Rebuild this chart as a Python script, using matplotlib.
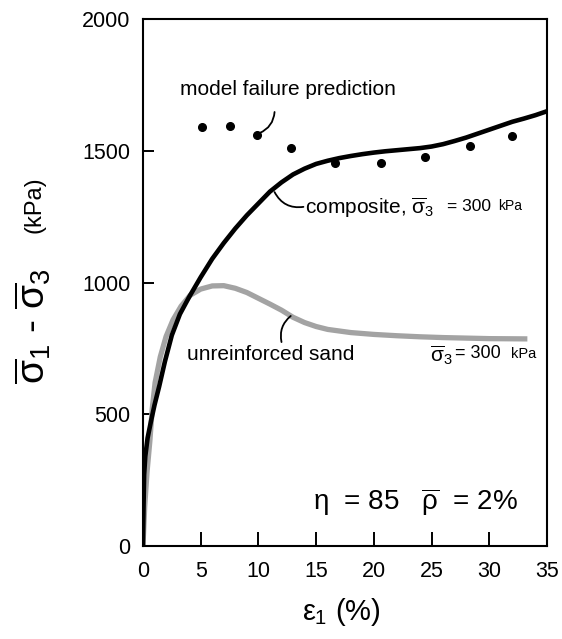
import matplotlib
matplotlib.use("Agg")
import matplotlib.pyplot as plt

plt.rcParams['font.family'] = ['Liberation Sans', 'DejaVu Sans']
plt.rcParams['mathtext.fontset'] = 'custom'
plt.rcParams['mathtext.rm'] = 'Liberation Sans'
plt.rcParams['mathtext.it'] = 'Liberation Sans'
plt.rcParams['mathtext.bf'] = 'Liberation Sans:bold'

# composite, sigma3 = 300 kPa
comp_strain = [0, 0.05, 0.1, 0.2, 0.4, 0.7, 1.0, 1.4, 1.9, 2.5, 3.2, 4.0, 5.0, 6.0,
               7.0, 8.0, 9.0, 10.0, 11.0, 12.0, 13.0, 14.0, 15.0, 16.0, 17.0, 18.0,
               19.0, 20, 21, 22, 23, 24, 25, 26, 27, 28, 29, 30, 31, 32, 33, 34, 35]
comp_stress = [0, 150, 270, 340, 410, 475, 535, 605, 700, 800, 880, 945, 1020, 1090,
               1150, 1205, 1255, 1300, 1345, 1380, 1410, 1432, 1450, 1462, 1472, 1480,
               1487, 1493, 1498, 1502, 1506, 1510, 1516, 1525, 1537, 1550, 1565, 1580,
               1595, 1610, 1622, 1635, 1650]

# unreinforced sand
sand_strain = [0, 0.15, 0.35, 0.6, 0.8, 1.05, 1.5, 2.0, 2.6, 3.3, 4.1, 5.0, 6.0, 7.0,
               8.0, 9.0, 10.0, 11.0, 12.0, 13.0, 14.0, 15.0, 16.0, 18, 20, 22, 24, 26,
               28, 30, 33.3]
sand_stress = [0, 150, 280, 400, 520, 620, 718, 795, 858, 910, 952, 975, 987, 988,
               978, 962, 940, 918, 895, 868, 848, 833, 822, 810, 803, 798, 794, 791,
               789, 787, 786]

# model failure prediction
pred_strain = [5.1, 7.5, 9.9, 12.8, 16.6, 20.6, 24.4, 28.3, 32.0]
pred_stress = [1591, 1594, 1560, 1510, 1453, 1453, 1476, 1518, 1556]

fig = plt.figure(figsize=(5.62, 6.39), dpi=100)
ax = fig.add_axes([0.2544, 0.1455, 0.7189, 0.8248])

ax.plot(sand_strain, sand_stress, color='#a3a3a3', lw=3.8, solid_capstyle='butt',
        solid_joinstyle='round', zorder=2)
ax.plot(comp_strain, comp_stress, color='black', lw=3.3, solid_capstyle='butt',
        solid_joinstyle='round', zorder=3)
ax.plot(pred_strain, pred_stress, 'o', color='black', ms=5.5, zorder=4)

ax.set_xlim(0, 35)
ax.set_ylim(0, 2000)
ax.set_xticks(range(0, 36, 5))
ax.set_yticks([0, 500, 1000, 1500, 2000])
ax.tick_params(axis='x', direction='in', length=10, width=1.4, labelsize=15.5, pad=11)
ax.tick_params(axis='y', direction='in', length=8, width=1.4, labelsize=15.5, pad=9)
for s in ax.spines.values():
    s.set_linewidth(1.5)

# annotations
ax.text(3.2, 1731, 'model failure prediction', fontsize=15, va='center')
ax.annotate('', xy=(10.1, 1567), xytext=(11.4, 1647),
            arrowprops=dict(arrowstyle='-', lw=1.3, color='black',
                            connectionstyle='arc3,rad=-0.3', shrinkA=0, shrinkB=0))

ax.text(14.0, 1283, r'composite, $\overline{\sigma}_3$', fontsize=15, va='center')
ax.text(26.3, 1290, '= 300', fontsize=12.5, va='center')
ax.text(30.8, 1290, 'kPa', fontsize=10, va='center')
ax.annotate('', xy=(13.9, 1287), xytext=(11.4, 1343),
            arrowprops=dict(arrowstyle='-', lw=1.3, color='black',
                            connectionstyle='arc3,rad=0.35', shrinkA=0, shrinkB=0))

ax.text(3.8, 725, 'unreinforced sand', fontsize=15, va='center')
ax.annotate('', xy=(12.0, 774), xytext=(12.8, 873),
            arrowprops=dict(arrowstyle='-', lw=1.3, color='black',
                            connectionstyle='arc3,rad=0.3', shrinkA=0, shrinkB=0))

ax.text(24.9, 722, r'$\overline{\sigma}_3$', fontsize=15, va='center')
ax.text(27.0, 730, '= 300', fontsize=13, va='center')
ax.text(31.9, 730, 'kPa', fontsize=10.5, va='center')

ax.text(14.7, 167, r'$\eta$  = 85   $\overline{\rho}$  = 2%', fontsize=20, va='center')

# axis labels
fig.text(0.058, 0.49, r'$\overline{\sigma}_1$ - $\overline{\sigma}_3$', rotation=90,
         fontsize=28, ha='center', va='center')
fig.text(0.062, 0.68, '(kPa)', rotation=90, fontsize=17, ha='center', va='center')
fig.text(0.608, 0.042, r'$\varepsilon_1$ (%)', fontsize=21, ha='center', va='center')

fig.savefig('out.png', dpi=100)
